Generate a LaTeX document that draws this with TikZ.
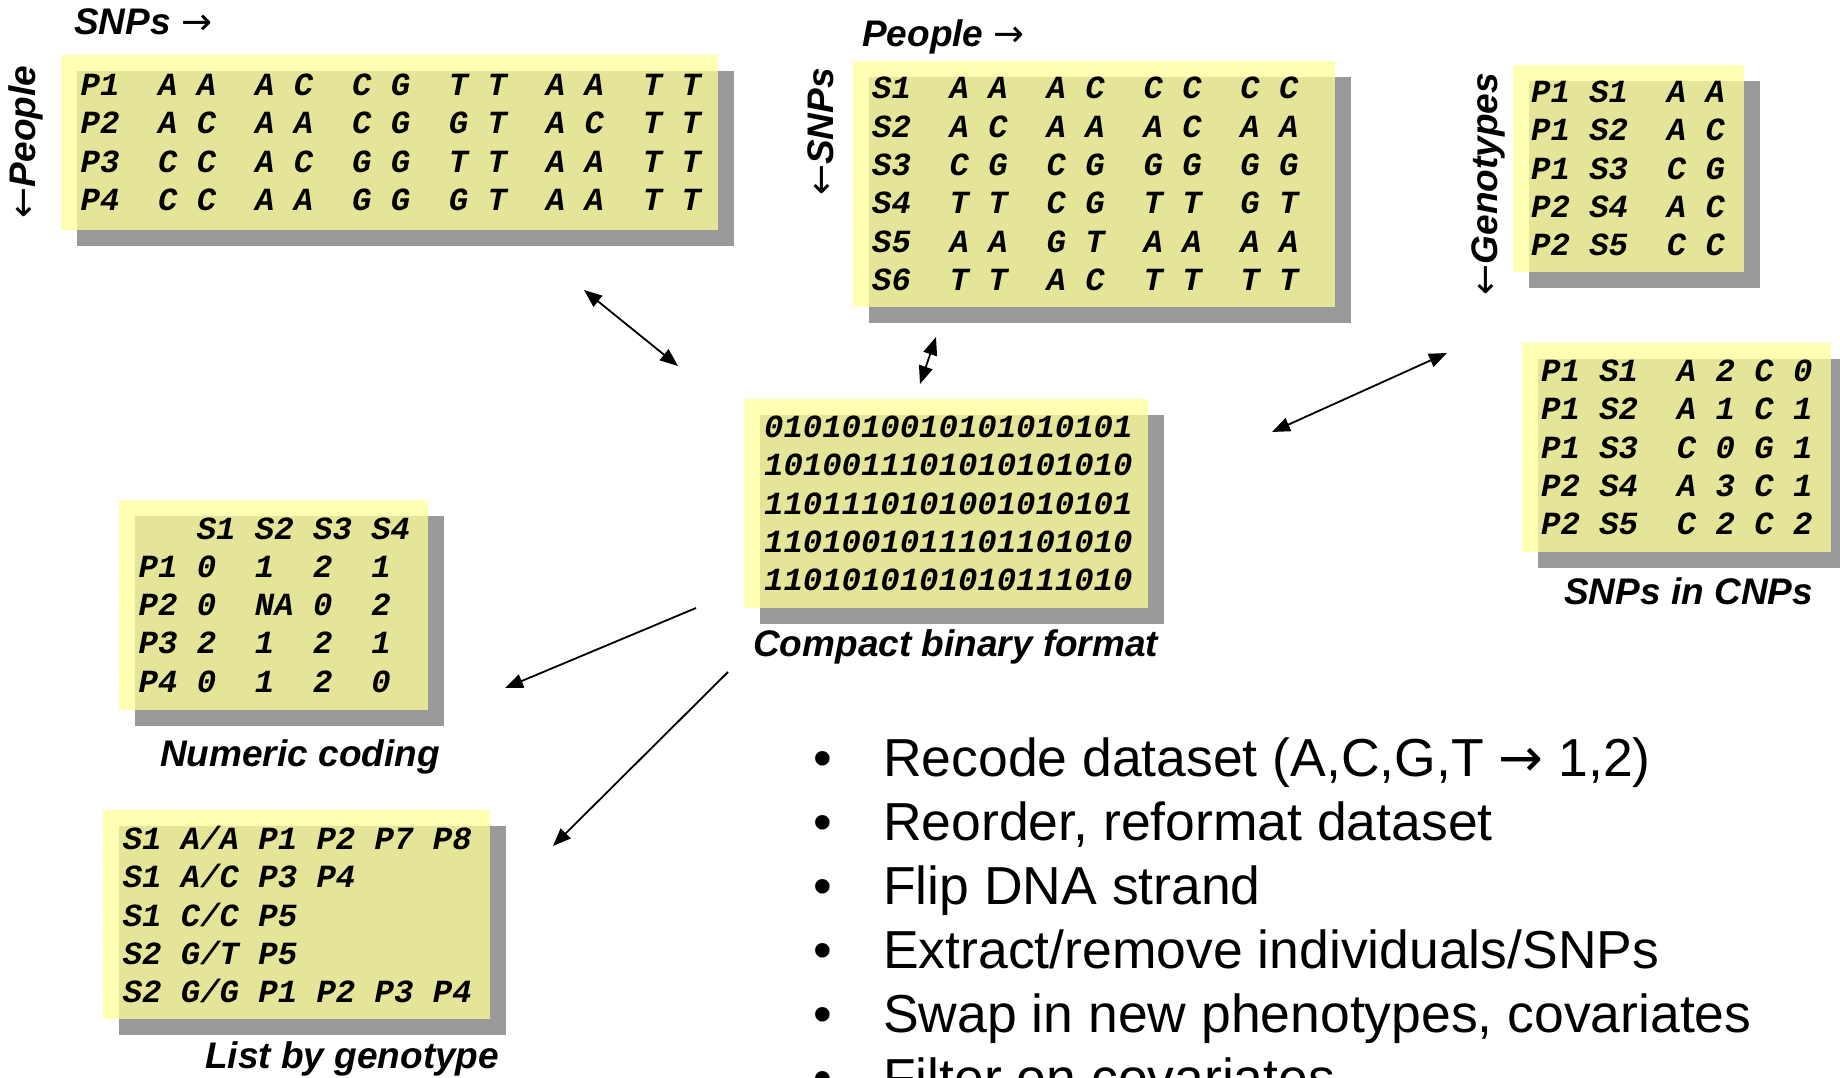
\documentclass[tikz,border=0pt]{standalone}
\usepackage{fontspec}
\setmainfont{Liberation Sans}
\setmonofont{Liberation Mono}
\newfontfamily\arrowfont{DejaVu Sans}
\newcommand{\rarr}{{\arrowfont\mdseries\upshape →}}
\newcommand{\larr}{{\arrowfont\mdseries\upshape ←}}
\usetikzlibrary{arrows.meta,shadows}
\definecolor{panelfill}{HTML}{FFFF99}
\definecolor{panelshade}{HTML}{999999}

\begin{document}
\begin{tikzpicture}[
  x=1pt, y=-1pt,
  >={Triangle[length=18pt,width=14pt]},
  tabbox/.style={anchor=north west, inner sep=0pt, fill=panelfill, fill opacity=0.75,
    drop shadow={shadow xshift=16pt, shadow yshift=-16pt, fill=panelshade, opacity=1}},
  gridtxt/.style={anchor=west, inner sep=0pt, align=left,
    font=\ttfamily\bfseries\itshape\fontsize{32.3}{38.3}\selectfont},
  lbl/.style={anchor=base west, inner sep=0pt,
    font=\bfseries\itshape\fontsize{37}{44}\selectfont},
  sidelbl/.style={lbl, anchor=center, rotate=90},
  blt/.style={anchor=base west, inner sep=0pt, font=\fontsize{53.5}{64}\selectfont},
  arr/.style={line width=1.8pt}]

\useasboundingbox (0,0) rectangle (1840,1078);
\clip (0,0) rectangle (1840,1078);

% ===== people x SNPs (top left) =====
\node[lbl] (ps-top) at (74,35) {SNPs \rarr};
\node[sidelbl] (ps-side) at (26,142) {\larr People};
\node[tabbox, minimum width=657pt, minimum height=175pt] (ps) at (61,55) {};
\node[gridtxt] (ps-t) at (80.5,142.5) {P1~~A~A~~A~C~~C~G~~T~T~~A~A~~T~T\\
  P2~~A~C~~A~A~~C~G~~G~T~~A~C~~T~T\\
  P3~~C~C~~A~C~~G~G~~T~T~~A~A~~T~T\\
  P4~~C~C~~A~A~~G~G~~G~T~~A~A~~T~T};

% ===== SNPs x people (top middle) =====
\node[lbl] (sp-top) at (862,47) {People \rarr};
\node[sidelbl] (sp-side) at (821,132) {\larr SNPs};
\node[tabbox, minimum width=482pt, minimum height=246pt] (sp) at (853,61) {};
\node[gridtxt] (sp-t) at (872,184) {S1~~A~A~~A~C~~C~C~~C~C\\
  S2~~A~C~~A~A~~A~C~~A~A\\
  S3~~C~G~~C~G~~G~G~~G~G\\
  S4~~T~T~~C~G~~T~T~~G~T\\
  S5~~A~A~~G~T~~A~A~~A~A\\
  S6~~T~T~~A~C~~T~T~~T~T};

% ===== genotypes (top right) =====
\node[sidelbl] (gt-side) at (1488,184) {\larr Genotypes};
\node[tabbox, minimum width=231pt, minimum height=207pt] (gt) at (1513,65) {};
\node[gridtxt] (gt-t) at (1531,168.5) {P1~S1~~A~A\\
  P1~S2~~A~C\\
  P1~S3~~C~G\\
  P2~S4~~A~C\\
  P2~S5~~C~C};

% ===== SNPs in CNPs (right) =====
\node[tabbox, minimum width=309pt, minimum height=209pt] (cnp) at (1522,343) {};
\node[gridtxt] (cnp-t) at (1541,447.5) {P1~S1~~A~2~C~0\\
  P1~S2~~A~1~C~1\\
  P1~S3~~C~0~G~1\\
  P2~S4~~A~3~C~1\\
  P2~S5~~C~2~C~2};
\node[lbl] (cnp-lbl) at (1564,604) {SNPs in CNPs};

% ===== compact binary (centre) =====
\node[tabbox, minimum width=404pt, minimum height=209pt] (bin) at (744,399) {};
\node[gridtxt] (bin-t) at (764,503.5) {0101010010101010101\\
  1010011101010101010\\
  1101110101001010101\\
  1101001011101101010\\
  1101010101010111010};
\node[lbl] (bin-lbl) at (753,656) {Compact binary format};

% ===== numeric coding (left) =====
\node[tabbox, minimum width=309pt, minimum height=210pt] (num) at (119,500) {};
\node[gridtxt] (num-t) at (138.5,605) {\mbox{}~~~S1~S2~S3~S4\\
  P1~0~~1~~2~~1\\
  P2~0~~NA~0~~2\\
  P3~2~~1~~2~~1\\
  P4~0~~1~~2~~0};
\node[lbl] (num-lbl) at (160,766) {Numeric coding};

% ===== list by genotype (bottom left) =====
\node[tabbox, minimum width=387pt, minimum height=209pt] (lbg) at (103,810) {};
\node[gridtxt] (lbg-t) at (122.6,914.5) {S1~A/A~P1~P2~P7~P8\\
  S1~A/C~P3~P4\\
  S1~C/C~P5\\
  S2~G/T~P5\\
  S2~G/G~P1~P2~P3~P4};
\node[lbl] (lbg-lbl) at (205,1068) {List by genotype};

% ===== bullets =====
\foreach \txt [count=\i from 0] in {{Recode dataset (A,C,G,T \rarr\ 1,2)},
  {Reorder, reformat dataset}, {Flip DNA strand}, {Extract/remove individuals/SNPs},
  {Swap in new phenotypes, covariates}, {Filter on covariates}} {
  \node[blt] (dot\i) at (813,776+64*\i) {\textbullet};
  \node[blt] (task\i) at (883,776+64*\i) {\txt};
}

% ===== arrow ends =====
\coordinate (ps-e)  at (584,290);
\coordinate (bin-a) at (678,366);
\coordinate (sp-e)  at (936,337);
\coordinate (bin-b) at (920,384);
\coordinate (gt-e)  at (1447,353);
\coordinate (bin-c) at (1272,432);
\coordinate (bin-d) at (696,608);
\coordinate (num-e) at (505,688);
\coordinate (bin-f) at (728,672);
\coordinate (lbg-e) at (553,846);

% ===== edges =====
\draw[arr, <->] (ps-e) -- (bin-a);
\draw[arr, <->] (sp-e) -- (bin-b);
\draw[arr, <->] (gt-e) -- (bin-c);
\draw[arr, ->] (bin-d) -- (num-e);
\draw[arr, ->] (bin-f) -- (lbg-e);

\end{tikzpicture}
\end{document}
